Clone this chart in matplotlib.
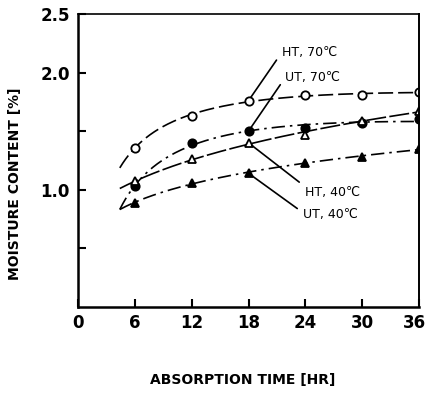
import numpy as np
import matplotlib
matplotlib.use("Agg")
import matplotlib.pyplot as plt
from matplotlib.transforms import ScaledTranslation

plt.rcParams['font.family'] = ['DejaVu Sans']

# data
hours = [6, 12, 18, 24, 30, 36]
ht_70 = [1.36, 1.63, 1.76, 1.81, 1.81, 1.83]
ut_70 = [1.03, 1.40, 1.50, 1.53, 1.57, 1.60]
ht_40 = [1.07, 1.26, 1.40, 1.47, 1.59, 1.67]
ut_40 = [0.89, 1.06, 1.14, 1.23, 1.28, 1.35]

x_ticks = [0, 6, 12, 18, 24, 30, 36]
y_ticks = [0.5, 1.0, 1.5, 2.0, 2.5]
y_labels = ['', '1.0', '', '2.0', '2.5']

fig = plt.figure(figsize=(4.27, 4.0), dpi=100)
ax = fig.add_axes([0.183, 0.233, 0.798, 0.732])

series = [
    (ht_70, 'o', 'white', (0, (9, 3))),
    (ut_70, 'o', 'black', (0, (8, 3, 1.5, 3))),
    (ht_40, '^', 'white', (0, (12, 2))),
    (ut_40, '^', 'black', (0, (8, 3, 1.5, 3))),
]

# smooth trend curves like the hand-drawn fits
xs = np.linspace(4.4, 36, 200)
for vals, mk, fc, ls in series:
    coef = np.polyfit(np.log(hours), vals, 2)
    ax.plot(xs, np.polyval(coef, np.log(xs)), color='black', lw=1.2, ls=ls)
    ax.plot(hours, vals, ls='none', marker=mk, ms=6, mfc=fc, mec='black', mew=1.3)

# leader lines and labels
notes = [('HT, 70℃', ht_70[2], (21.5, 2.17), (0, 0.5)),
         ('UT, 70℃', ut_70[2], (21.9, 1.96), (0, 0.5)),
         ('HT, 40℃', ht_40[2], (24.0, 0.98), (0, 0.9)),
         ('UT, 40℃', ut_40[2], (23.8, 0.79), (0, 0.6))]
for text, yv, (tx, ty), rp in notes:
    ax.annotate(text, xy=(18, yv), xytext=(tx, ty), fontsize=9,
                va='center', ha='left',
                arrowprops=dict(arrowstyle='-', color='black', lw=1.2,
                                shrinkA=3, shrinkB=3, relpos=rp))

ax.set_xlim(0, 36)
ax.set_ylim(0, 2.5)
ax.set_xticks(x_ticks)
ax.set_xticklabels([str(t) for t in x_ticks], fontsize=12, fontweight='bold')
ax.set_yticks(y_ticks)
ax.set_yticklabels(y_labels, fontsize=12, fontweight='bold')
ax.tick_params(direction='in', length=6, width=1.5)
ax.tick_params(axis='x', pad=5)
ax.tick_params(axis='y', pad=6)
ax.spines['left'].set_linewidth(1.8)
ax.spines['bottom'].set_linewidth(1.8)
ax.spines['top'].set_linewidth(1.2)
ax.spines['right'].set_linewidth(1.4)

# nudge the last x label so it stays inside the picture
last = ax.get_xticklabels()[-1]
last.set_transform(last.get_transform() + ScaledTranslation(-4 / 100, 0, fig.dpi_scale_trans))

ax.set_xlabel('ABSORPTION TIME [HR]', fontsize=10, fontweight='bold')
ax.xaxis.set_label_coords(0.484, -0.225)
ax.set_ylabel('MOISTURE CONTENT [%]', fontsize=10, fontweight='bold')
ax.yaxis.set_label_coords(-0.165, 0.42)

fig.savefig('out.png', dpi=100)
